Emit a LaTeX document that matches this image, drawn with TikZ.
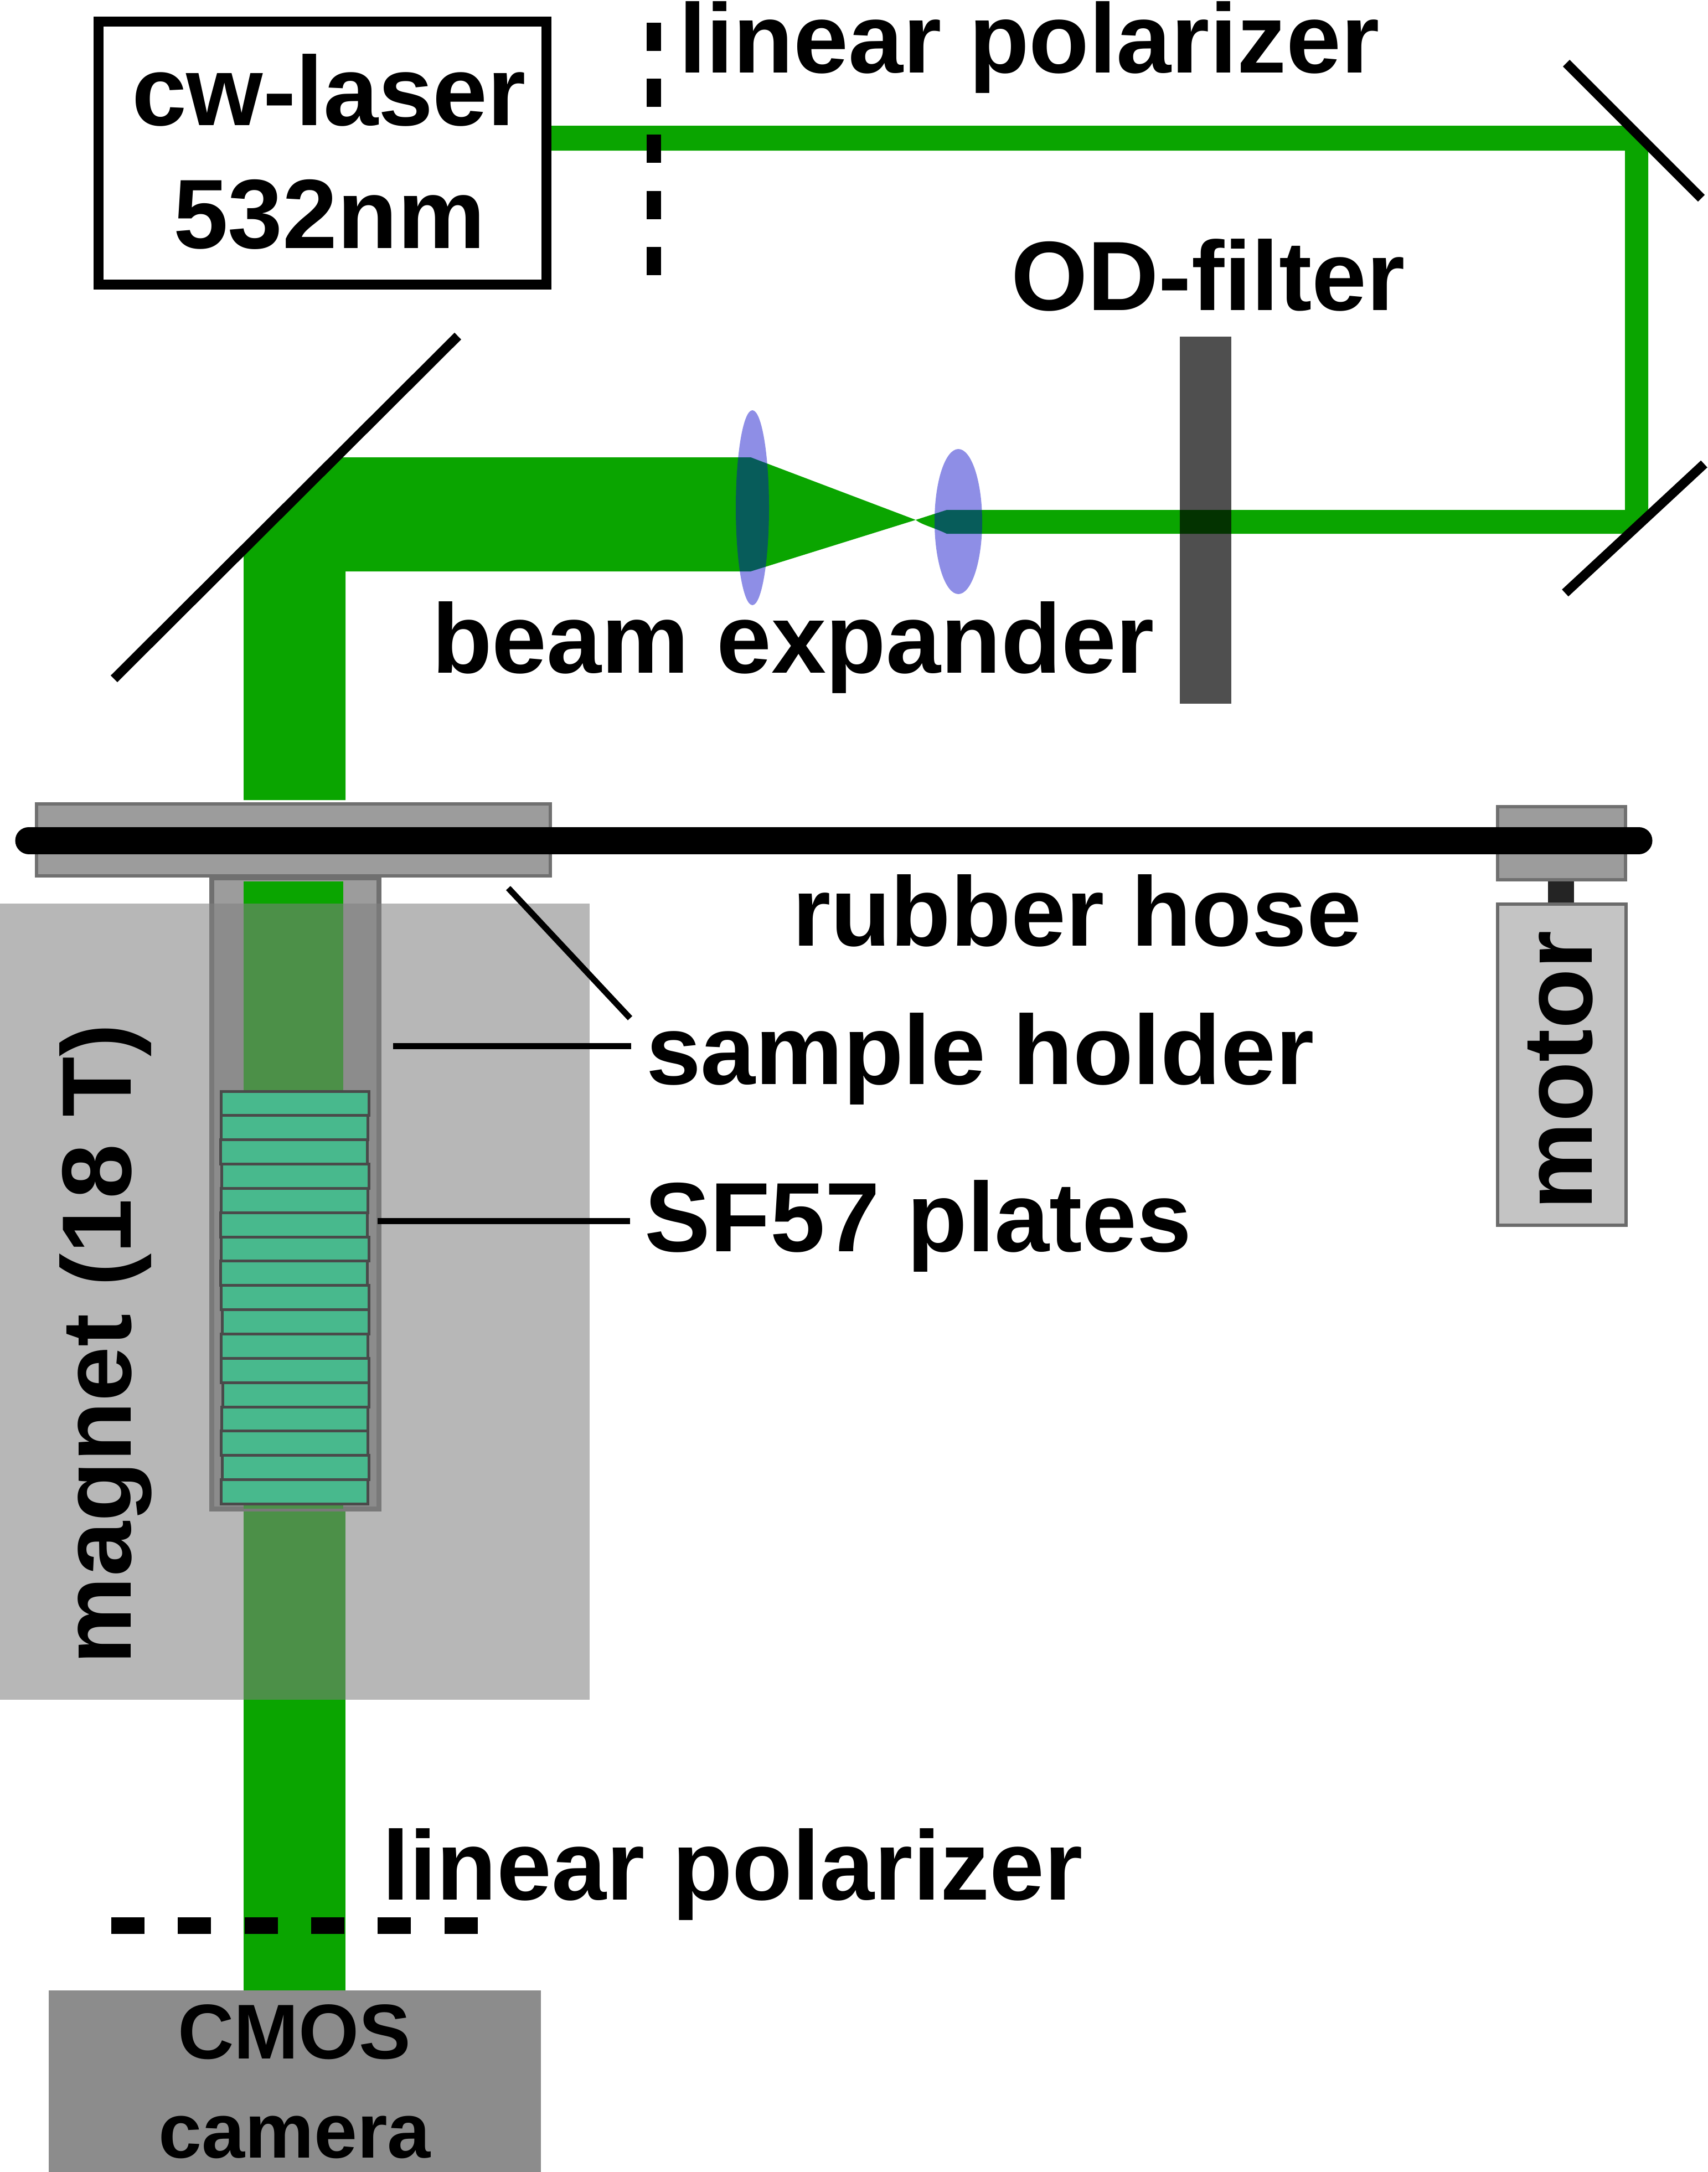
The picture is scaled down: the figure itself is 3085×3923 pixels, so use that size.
\documentclass[tikz,border=0pt]{standalone}
\usepackage{fontspec}
\setmainfont{Liberation Sans}
\definecolor{beamgreen}{HTML}{0AA500}
\definecolor{lensblue}{HTML}{0404C8}
\definecolor{platefill}{HTML}{48B98D}
\definecolor{platedraw}{HTML}{4A4A4A}
\definecolor{holderfill}{HTML}{9C9C9C}
\definecolor{holderdraw}{HTML}{707070}
\definecolor{motorfill}{HTML}{C4C4C4}
\definecolor{cmosfill}{HTML}{8C8C8C}
\tikzset{
  beam/.style={fill=beamgreen,draw=none},
  lensbody/.style={fill=lensblue,fill opacity=.45,draw=none},
  holder/.style={fill=holderfill,draw=holderdraw,line width=.06cm},
  plate/.style={fill=platefill,draw=platedraw,line width=.05cm},
  mirror/.style={draw=black,line width=.17cm},
  leader/.style={draw=black,line width=.11cm},
  bigtext/.style={inner sep=0pt,outer sep=0pt,anchor=base west,font=\fontsize{50.6pt}{60pt}\selectfont\bfseries,text=black},
  camtext/.style={inner sep=0pt,outer sep=0pt,anchor=base,font=\fontsize{39.9pt}{48pt}\selectfont\bfseries,text=black},
}
\begin{document}
\begin{tikzpicture}[x=0.01cm,y=-0.01cm]
\path[use as bounding box] (0,0) rectangle (3085,3923);
% holder tube
\path[fill=holderfill,draw=holderdraw,line width=.09cm] (382.5,1585) rectangle (684.5,2725.5);
% beams
\path[beam] (996,227) -- (2945,227) -- (2977,259) -- (2977,941) -- (2954,964) -- (1710,964)
  .. controls (1685,952) and (1665,948) .. (1654,939) -- (1356,1032) -- (624,1032) -- (624,1445) -- (440,1445)
  -- (440,993) -- (607,826) -- (1356,826) -- (1654,939) -- (1710,921) -- (2935,921) -- (2935,272) -- (996,272) -- cycle;
\path[beam] (440,1592) rectangle (620,2725);
\path[beam] (440,2730) rectangle (624,3600);
% magnet
\path[fill=black!50,fill opacity=.563] (0,1632) rectangle (1065,3070);
% sample plates
\foreach \i/\xa/\xb in {0/399/666,1/399/664,2/398/663,3/400/666,4/399/664,5/398/663,6/399/666,7/398/663,8/399/666,9/401/666,10/399/664,11/399/666,12/402/666,13/400/664,14/399/664,15/401/666,16/399/664}
  \path[plate] (\xa,{1971+43.85*\i}) rectangle (\xb,{1971+43.85*(\i+1)});
% upper holder plate, motor
\path[holder] (66,1452) rectangle (994,1582);
\path[holder] (2705,1457) rectangle (2936,1589);
\path[fill=black!86] (2796,1592) rectangle (2843,1630);
\path[fill=motorfill,draw=black!58,line width=.06cm] (2705,1633) rectangle (2937,2213);
% hose
\coordinate (hoseL) at (52,1518);
\coordinate (hoseR) at (2960,1518);
\draw[line width=.49cm,line cap=round] (hoseL) -- (hoseR);
% laser
\node[draw=black,line width=.18cm,fill=white,minimum width=8.09cm,minimum height=4.75cm,inner sep=0pt,outer sep=0pt,anchor=north west] (laser) at (178,39) {};
\node[bigtext] (laserA) at (238,226) {cw-laser};
\node[bigtext] (laserB) at (313,448) {532nm};
% lenses
\path[lensbody] (1359,917) ellipse [x radius=30,y radius=176];
\path[lensbody] (1731,942) ellipse [x radius=43,y radius=131];
% OD filter
\path[fill=black,fill opacity=.69] (2131,608) rectangle (2224,1271);
% mirrors
\coordinate (m1a) at (2829,114); \coordinate (m1b) at (3073,358);
\coordinate (m2a) at (3078,838); \coordinate (m2b) at (2827,1071);
\coordinate (m3a) at (827,607);  \coordinate (m3b) at (206,1226);
\draw[mirror] (m1a) -- (m1b);
\draw[mirror] (m2a) -- (m2b);
\draw[mirror] (m3a) -- (m3b);
% polarizers
\foreach \i in {0,...,4}
  \path[fill=black] (1168,{40.6+101.4*\i}) rectangle (1194,{91.6+101.4*\i});
\foreach \i in {0,...,5}
  \path[fill=black] ({201+120.3*\i},3463) rectangle ({261+120.3*\i},3493);
% camera
\path[fill=cmosfill] (88.4,3595) rectangle (976.5,3923);
% leaders
\coordinate (l1a) at (918,1604); \coordinate (l1b) at (1138,1839);
\coordinate (l2a) at (710,1889); \coordinate (l2b) at (1140,1889);
\coordinate (l3a) at (682,2205); \coordinate (l3b) at (1138,2205);
\draw[leader] (l1a) -- (l1b);
\draw[leader] (l2a) -- (l2b);
\draw[leader] (l3a) -- (l3b);
% labels
\node[bigtext] (polA) at (1226,131) {linear polarizer};
\node[bigtext] (od) at (1826,560) {OD-filter};
\node[bigtext] (be) at (780,1215) {beam expander};
\node[bigtext] (rh) at (1431,1708) {rubber hose};
\node[bigtext] (sh) at (1167,1958) {sample holder};
\node[bigtext] (sf) at (1164,2260) {SF57 plates};
\node[bigtext] (polB) at (690,3431.5) {linear polarizer};
\node[bigtext,rotate=90] (mag) at (236,3006) {magnet (18 T)};
\node[bigtext,rotate=90] (mot) at (2875,2185) {motor};
\node[camtext] (camA) at (532,3718) {CMOS};
\node[camtext] (camB) at (532,3897) {camera};
\end{tikzpicture}
\end{document}
